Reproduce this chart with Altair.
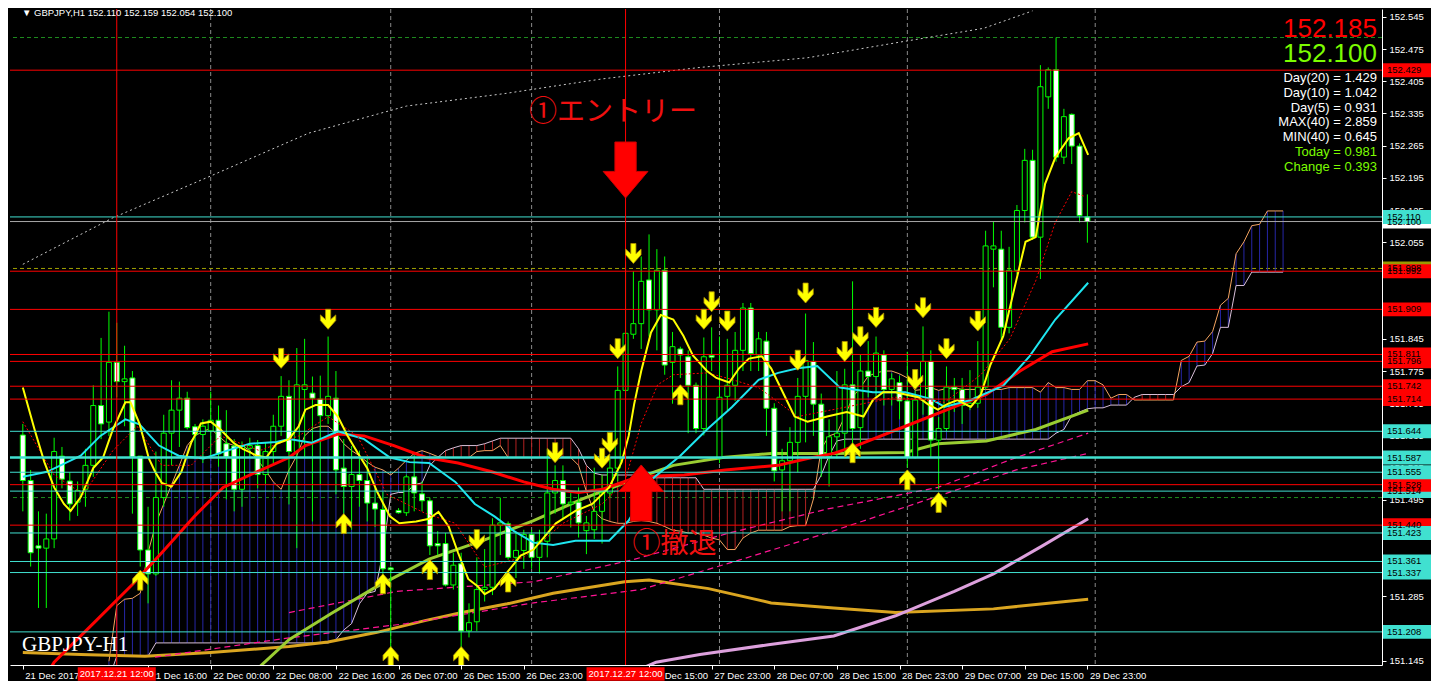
import altair as alt
import numpy as np
import pandas as pd

# ---------------- candles (H1) : bar 0 = 21 Dec 2017 00:00 ----------------
opens = [151.636, 151.537, 151.395, 151.390, 151.410, 151.590, 151.536, 151.490, 151.518, 151.570,
         151.700, 151.664, 151.794, 151.752, 151.760, 151.590, 151.386, 151.334, 151.500, 151.640,
         151.690, 151.716, 151.654, 151.637, 151.645, 151.668, 151.617, 151.612, 151.518, 151.607,
         151.613, 151.550, 151.600, 151.655, 151.720, 151.600, 151.735, 151.727, 151.714, 151.678,
         151.716, 151.564, 151.524, 151.550, 151.537, 151.488, 151.474, 151.347, 151.472, 151.467,
         151.545, 151.508, 151.493, 151.400, 151.400, 151.310, 151.356, 151.210, 151.230, 151.300,
         151.305, 151.440, 151.443, 151.370, 151.385, 151.420, 151.370, 151.405, 151.510, 151.537,
         151.486, 151.490, 151.428, 151.430, 151.470, 151.510, 151.564, 151.733, 151.855, 151.878,
         151.973, 151.908, 151.994, 151.794, 151.823, 151.806, 151.744, 151.650, 151.809, 151.585,
         151.720, 151.744, 151.820, 151.912, 151.810, 151.840, 151.694, 151.560, 151.580, 151.620,
         151.720, 151.796, 151.703, 151.589, 151.632, 151.640, 151.745, 151.652, 151.775, 151.763,
         151.810, 151.735, 151.750, 151.710, 151.587, 151.712, 151.796, 151.625, 151.650, 151.740,
         151.735, 151.700, 151.705, 151.740, 152.040, 152.040, 151.870, 151.994, 152.124, 152.233,
         152.066, 152.371, 152.430, 152.240, 152.333, 152.264, 152.110]
highs = [151.660, 151.560, 151.470, 151.465, 151.630, 151.610, 151.555, 151.535, 151.606, 151.744,
         151.847, 151.904, 151.880, 151.830, 151.775, 151.590, 151.480, 151.600, 151.680, 151.755,
         151.752, 151.730, 151.660, 151.670, 151.730, 151.700, 151.690, 151.627, 151.622, 151.630,
         151.625, 151.620, 151.680, 151.764, 151.755, 151.825, 151.845, 151.763, 151.765, 151.850,
         151.775, 151.627, 151.612, 151.602, 151.585, 151.520, 151.512, 151.350, 151.477, 151.550,
         151.592, 151.535, 151.500, 151.427, 151.423, 151.380, 151.380, 151.270, 151.370, 151.388,
         151.455, 151.500, 151.448, 151.423, 151.430, 151.430, 151.430, 151.606, 151.570, 151.570,
         151.510, 151.522, 151.460, 151.565, 151.550, 151.585, 151.785, 152.013, 151.992, 152.024,
         152.072, 152.040, 152.024, 151.860, 151.828, 151.820, 151.750, 151.848, 151.870, 151.850,
         151.845, 151.860, 151.923, 151.923, 151.860, 151.860, 151.705, 151.606, 151.653, 151.760,
         151.900, 151.838, 151.726, 151.670, 151.775, 151.780, 151.970, 151.810, 151.840, 151.850,
         151.820, 151.770, 151.765, 151.817, 151.733, 151.872, 151.820, 151.675, 151.785, 151.760,
         151.760, 151.777, 151.840, 152.080, 152.100, 152.080, 152.045, 152.136, 152.258, 152.256,
         152.440, 152.435, 152.500, 152.345, 152.335, 152.270, 152.159]
lows = [151.470, 151.350, 151.260, 151.260, 151.390, 151.520, 151.450, 151.460, 151.480, 151.545,
        151.627, 151.634, 151.718, 151.655, 151.465, 151.350, 151.270, 151.330, 151.480, 151.570,
        151.610, 151.648, 151.590, 151.575, 151.590, 151.567, 151.496, 151.470, 151.480, 151.588,
        151.520, 151.530, 151.575, 151.634, 151.485, 151.390, 151.587, 151.448, 151.528, 151.660,
        151.507, 151.465, 151.430, 151.480, 151.448, 151.436, 151.334, 151.163, 151.465, 151.460,
        151.470, 151.470, 151.375, 151.375, 151.307, 151.300, 151.175, 151.196, 151.210, 151.274,
        151.288, 151.375, 151.365, 151.325, 151.345, 151.345, 151.335, 151.370, 151.465, 151.455,
        151.435, 151.413, 151.377, 151.410, 151.400, 151.500, 151.535, 151.718, 151.845, 151.823,
        151.850, 151.820, 151.767, 151.704, 151.760, 151.640, 151.640, 151.635, 151.775, 151.575,
        151.690, 151.710, 151.775, 151.775, 151.775, 151.634, 151.535, 151.470, 151.470, 151.555,
        151.620, 151.634, 151.545, 151.524, 151.585, 151.590, 151.590, 151.606, 151.718, 151.720,
        151.700, 151.700, 151.670, 151.565, 151.585, 151.680, 151.587, 151.518, 151.645, 151.686,
        151.660, 151.690, 151.695, 151.735, 151.957, 151.845, 151.857, 151.985, 152.098, 152.060,
        151.975, 152.345, 152.230, 152.225, 152.225, 152.098, 152.054]
closes = [151.537, 151.380, 151.390, 151.410, 151.600, 151.540, 151.486, 151.515, 151.570, 151.700,
          151.660, 151.794, 151.752, 151.758, 151.588, 151.386, 151.334, 151.500, 151.640, 151.690,
          151.716, 151.652, 151.637, 151.655, 151.668, 151.595, 151.588, 151.518, 151.612, 151.613,
          151.550, 151.600, 151.655, 151.720, 151.600, 151.745, 151.745, 151.716, 151.678, 151.720,
          151.560, 151.524, 151.550, 151.537, 151.488, 151.475, 151.345, 151.343, 151.467, 151.545,
          151.510, 151.493, 151.395, 151.395, 151.310, 151.353, 151.210, 151.228, 151.300, 151.305,
          151.440, 151.445, 151.370, 151.385, 151.420, 151.370, 151.405, 151.510, 151.537, 151.486,
          151.490, 151.445, 151.445, 151.470, 151.510, 151.564, 151.733, 151.857, 151.878, 151.970,
          151.908, 151.994, 151.788, 151.828, 151.810, 151.744, 151.650, 151.806, 151.805, 151.718,
          151.744, 151.820, 151.912, 151.813, 151.845, 151.694, 151.558, 151.580, 151.620, 151.720,
          151.798, 151.703, 151.589, 151.632, 151.640, 151.745, 151.650, 151.775, 151.763, 151.814,
          151.735, 151.758, 151.710, 151.587, 151.712, 151.796, 151.625, 151.650, 151.740, 151.735,
          151.700, 151.705, 151.740, 152.047, 152.047, 151.870, 151.994, 152.124, 152.233, 152.066,
          152.393, 152.430, 152.240, 152.328, 152.264, 152.113, 152.100]

# ---------------- Ichimoku cloud (from bar 11, shifted 26 bars ahead) ----------------
cloud_start = 11
span_a = [151.144, 151.265, 151.279, 151.281, 151.292, 151.380, 151.444, 151.486, 151.528, 151.570,
          151.613, 151.634, 151.644, 151.650, 151.634, 151.619, 151.613, 151.613, 151.602, 151.581,
          151.560, 151.534, 151.518, 151.560, 151.591, 151.634, 151.650, 151.655, 151.655, 151.640,
          151.617, 151.602, 151.591, 151.577, 151.566, 151.560, 151.549, 151.564, 151.581, 151.596,
          151.602, 151.596, 151.589, 151.587, 151.587, 151.587, 151.587, 151.600, 151.602, 151.602,
          151.613, 151.587, 151.587, 151.587, 151.587, 151.587, 151.587, 151.587, 151.587, 151.587,
          151.570, 151.513, 151.469, 151.454, 151.448, 151.444, 151.444, 151.448, 151.450, 151.448,
          151.444, 151.437, 151.429, 151.427, 151.423, 151.423, 151.418, 151.412, 151.408, 151.387,
          151.387, 151.412, 151.423, 151.429, 151.429, 151.429, 151.429, 151.437, 151.439, 151.439,
          151.497, 151.606, 151.634, 151.640, 151.676, 151.718, 151.739, 151.764, 151.771, 151.775,
          151.775, 151.769, 151.760, 151.733, 151.735, 151.739, 151.733, 151.737, 151.739, 151.735,
          151.735, 151.735, 151.735, 151.735, 151.735, 151.739, 151.739, 151.739, 151.739, 151.729,
          151.750, 151.739, 151.739, 151.735, 151.735, 151.754, 151.754, 151.745, 151.716, 151.724,
          151.724, 151.712, 151.712, 151.712, 151.712, 151.712, 151.712, 151.798, 151.807, 151.838,
          151.840, 151.861, 151.918, 151.933, 152.030, 152.056, 152.091, 152.094, 152.123, 152.123,
          152.123]
span_b = [151.106, 151.155, 151.155, 151.155, 151.155, 151.155, 151.184, 151.184, 151.184, 151.184,
          151.184, 151.184, 151.184, 151.184, 151.184, 151.184, 151.184, 151.184, 151.184, 151.184,
          151.184, 151.184, 151.184, 151.184, 151.184, 151.184, 151.184, 151.184, 151.184, 151.191,
          151.212, 151.226, 151.269, 151.292, 151.296, 151.380, 151.507, 151.511, 151.511, 151.528,
          151.532, 151.570, 151.587, 151.602, 151.608, 151.613, 151.613, 151.613, 151.617, 151.623,
          151.629, 151.629, 151.629, 151.629, 151.629, 151.629, 151.629, 151.629, 151.629, 151.629,
          151.606, 151.570, 151.553, 151.549, 151.549, 151.549, 151.549, 151.549, 151.549, 151.543,
          151.543, 151.543, 151.543, 151.543, 151.543, 151.543, 151.518, 151.518, 151.518, 151.518,
          151.518, 151.518, 151.518, 151.518, 151.518, 151.518, 151.518, 151.518, 151.518, 151.518,
          151.518, 151.549, 151.591, 151.623, 151.627, 151.627, 151.627, 151.627, 151.627, 151.627,
          151.627, 151.627, 151.627, 151.627, 151.627, 151.627, 151.627, 151.627, 151.627, 151.627,
          151.627, 151.627, 151.627, 151.627, 151.627, 151.627, 151.627, 151.627, 151.627, 151.627,
          151.627, 151.640, 151.648, 151.678, 151.686, 151.693, 151.695, 151.695, 151.701, 151.701,
          151.701, 151.718, 151.724, 151.724, 151.724, 151.724, 151.724, 151.741, 151.750, 151.786,
          151.788, 151.813, 151.870, 151.870, 151.961, 151.961, 151.990, 151.990, 151.990, 151.990,
          151.990]

# ---------------- moving averages ----------------
yellow_bars = [0, 1.5, 2.75, 4, 5.25, 6.1, 7.4, 9, 10.25, 11.5, 13.1, 13.75, 14.9, 16.1, 16.9, 17.75,
               19, 20.25, 21.5, 22.75, 24, 25.25, 26.9, 28.1, 29.9, 31.1, 32.4, 34, 35.25, 36.1, 37.4,
               39, 40.25, 41.5, 42.75, 44, 45.25, 46.9, 48.1, 50.25, 51.9, 53.1, 54.4, 55.6, 56.9, 58.1,
               59, 60.25, 61.9, 63.6, 65.25, 68.1, 70.6, 72.75, 74.9, 76.5, 77.4, 78.1, 79, 80.25, 81.5,
               83.1, 84.4, 85.6, 87.4, 88.6, 90.25, 91.5, 92.75, 94.4, 95.6, 97.4, 98.6, 100.25, 102.75,
               105.25, 107.4, 108.6, 109.9, 111.5, 112.75, 114.4, 115.6, 116.9, 118.1, 119.4, 121.1,
               122.4, 123.6, 125.25, 126.9, 128.1, 129.4, 130.6, 131.9, 133.6, 134.9, 136.1]
yellow_vals = [151.739, 151.648, 151.577, 151.522, 151.486, 151.471, 151.501, 151.564, 151.587, 151.648,
               151.707, 151.707, 151.661, 151.585, 151.556, 151.532, 151.524, 151.556, 151.619, 151.661,
               151.665, 151.648, 151.619, 151.606, 151.591, 151.587, 151.617, 151.627, 151.655, 151.691,
               151.701, 151.701, 151.676, 151.634, 151.598, 151.564, 151.513, 151.459, 151.444, 151.448,
               151.454, 151.469, 151.437, 151.380, 151.323, 151.307, 151.290, 151.302, 151.338, 151.374,
               151.387, 151.444, 151.471, 151.486, 151.522, 151.577, 151.634, 151.703, 151.775, 151.859,
               151.897, 151.887, 151.851, 151.809, 151.775, 151.760, 151.750, 151.781, 151.802, 151.807,
               151.781, 151.718, 151.676, 151.665, 151.676, 151.686, 151.676, 151.712, 151.729, 151.729,
               151.724, 151.718, 151.703, 151.691, 151.703, 151.712, 151.697, 151.724, 151.788, 151.851,
               151.971, 152.056, 152.066, 152.182, 152.239, 152.281, 152.292, 152.245]
cyan_bars = [0, 3.1, 7.4, 9.9, 13.1, 14.9, 17.4, 19.9, 23.1, 26.1, 29, 32.4, 34, 36.9, 40.25, 43.6,
             46.9, 49.4, 51.9, 55.25, 57.75, 60.25, 62.75, 65.25, 67.75, 70.6, 74.9, 77.4, 80.6, 84,
             87.4, 90.6, 94, 96.5, 99, 101.5, 104.4, 108.6, 112.75, 116.1, 117.75, 121.1, 125.25,
             128.6, 131.9, 136.1]
cyan_vals = [151.545, 151.556, 151.591, 151.634, 151.670, 151.659, 151.613, 151.591, 151.585, 151.602,
             151.617, 151.621, 151.627, 151.619, 151.644, 151.627, 151.587, 151.577, 151.575, 151.534,
             151.486, 151.459, 151.427, 151.402, 151.397, 151.406, 151.406, 151.450, 151.543, 151.591,
             151.648, 151.697, 151.756, 151.771, 151.781, 151.786, 151.739, 151.729, 151.729, 151.714,
             151.697, 151.712, 151.743, 151.807, 151.887, 151.967]
red_bars = [2.75, 4, 9.4, 14, 17.75, 21.9, 25.6, 29.9, 34, 36.1, 40.25, 43.6, 47.4, 51.5, 55.6, 59.9,
            64, 67.75, 71, 74.1, 78.6, 84.5, 89.75, 96.5, 100.25, 103.6, 106.5, 112.75, 119, 123.1,
            127.4, 131.5, 136.1]
red_vals = [151.106, 151.142, 151.233, 151.311, 151.380, 151.459, 151.522, 151.556, 151.587, 151.613,
            151.638, 151.634, 151.613, 151.587, 151.575, 151.556, 151.534, 151.518, 151.511, 151.518,
            151.545, 151.549, 151.560, 151.570, 151.585, 151.596, 151.613, 151.655, 151.697, 151.724,
            151.775, 151.817, 151.834]
orange_bars = [0, 7.4, 15.6, 24, 34, 39, 45.25, 51.5, 56.1, 61.9, 67.75, 76.9, 80, 87.6, 95.6, 103.6,
               111.5, 124, 136.1]
orange_vals = [151.163, 151.159, 151.155, 151.163, 151.176, 151.186, 151.207, 151.233, 151.250, 151.269,
               151.292, 151.317, 151.321, 151.302, 151.271, 151.260, 151.250, 151.258, 151.279]
olive_bars = [30.25, 34, 39.4, 44.75, 51.9, 59, 65.25, 71.5, 78.6, 83.1, 89.4, 95.6, 103.6, 112.75,
              116.9, 123.1, 129.4, 136.1]
olive_vals = [151.132, 151.191, 151.248, 151.302, 151.366, 151.408, 151.450, 151.497, 151.543, 151.570,
              151.587, 151.596, 151.596, 151.598, 151.617, 151.623, 151.648, 151.690]
plum_bars = [79, 80.9, 86.5, 95.25, 103.6, 111.5, 119, 124, 130.25, 136.1]
plum_vals = [151.128, 151.142, 151.159, 151.180, 151.199, 151.243, 151.296, 151.334, 151.395, 151.454]
wdot_bars = [0, 11.5, 24, 36.5, 49, 61.5, 74, 86.5, 100.25, 112.75, 122.75, 129]
wdot_vals = [152.007, 152.108, 152.199, 152.292, 152.351, 152.378, 152.410, 152.435, 152.456, 152.492,
             152.520, 152.558]
mag1_bars = [34, 47.75, 65.25, 77.75, 90.25, 102.75, 116.9, 126.9, 136.1]
mag1_vals = [151.250, 151.296, 151.317, 151.364, 151.423, 151.475, 151.522, 151.587, 151.640]
mag2_bars = [16.9, 34, 49, 65.25, 79, 91.5, 102.75, 116.9, 126.9, 136.1]
mag2_vals = [151.153, 151.195, 151.226, 151.271, 151.300, 151.364, 151.423, 151.503, 151.560, 151.596]
rdot_bars = [0, 4, 7.75, 11.5, 14.6, 17.75, 21.5, 25.25, 30.25, 35.25, 39, 42.75, 46.5, 51.5, 55.25,
             59, 64, 69, 74, 76.9, 79, 81.1, 83.1, 87.4, 89.9, 94, 99, 105.25, 111.5, 117.75, 122.4,
             126.1, 129.4, 131.9, 134, 135.6]
rdot_vals = [151.665, 151.549, 151.507, 151.602, 151.655, 151.570, 151.570, 151.634, 151.602, 151.634,
             151.676, 151.634, 151.507, 151.465, 151.444, 151.349, 151.370, 151.444, 151.486, 151.534,
             151.661, 151.745, 151.767, 151.771, 151.760, 151.739, 151.676, 151.697, 151.718, 151.707,
             151.767, 151.845, 151.971, 152.098, 152.165, 152.155]

# ---------------- signal arrows ----------------
down_bars = [33, 39, 58, 68, 74, 75, 76, 78, 87, 88, 90, 99, 100, 105, 107, 109, 114, 115, 118, 122]
down_vals = [151.802, 151.887, 151.408, 151.597, 151.585, 151.619, 151.823, 152.030, 151.887, 151.925,
             151.883, 151.798, 151.944, 151.817, 151.849, 151.891, 151.756, 151.912, 151.823, 151.883]
up_bars = [15, 41, 46, 47, 52, 56, 62, 84, 106, 113, 117]
up_vals = [151.321, 151.444, 151.313, 151.155, 151.344, 151.155, 151.317, 151.724, 151.598, 151.539,
           151.490]

# ---------------- levels / objects ----------------
red_levels = [151.440, 151.528, 151.714, 151.742, 151.796, 151.811, 151.909, 151.992, 152.429]
cyan_levels = [152.110, 151.644, 151.587, 151.555, 151.423, 151.361, 151.337, 151.208]
cyan_under_level = [151.514]
bid_level = [152.100]
olive_level = [151.998]
green_dash_levels = [152.500, 151.500]
marked_bars = [12, 77]
marked_labels = ['2017.12.21 12:00', '2017.12.27 12:00']
day_sep_bars = [24, 47, 65, 89, 113, 137]
entry_arrow = (77, 152.212)
exit_arrow = (79, 151.510)
entry_text = (75.4, 152.336, '①エントリー')
exit_text = (83.25, 151.397, '①撤退')

ytick_values = [151.145, 151.215, 151.285, 151.355, 151.425, 151.495, 151.565, 151.635, 151.705,
                151.775, 151.845, 151.915, 151.985, 152.055, 152.125, 152.195, 152.265, 152.335,
                152.405, 152.475, 152.545]
xtick_bars = [0, 16, 24, 32, 40, 48, 56, 64, 80, 88, 96, 104, 112, 120, 128, 136]
xtick_labels = ['21 Dec 2017', '21 Dec 16:00', '22 Dec 00:00', '22 Dec 08:00',
                '22 Dec 16:00', '26 Dec 07:00', '26 Dec 15:00', '26 Dec 23:00',
                '27 Dec 15:00', '27 Dec 23:00', '28 Dec 07:00', '28 Dec 15:00', '28 Dec 23:00',
                '29 Dec 07:00', '29 Dec 15:00', '29 Dec 23:00']
header = '▼ GBPJPY,H1  152.110 152.159 152.054 152.100'
big_prices = ['152.185', '152.100']
info_white = ['Day(20) = 1.429', 'Day(10) = 1.042', 'Day(5) = 0.931', 'MAX(40) = 2.859', 'MIN(40) = 0.645']
info_green = ['Today = 0.981', 'Change = 0.393']
symbol_text = 'GBPJPY-H1'

# ---------------- layout ----------------
W, H = 1372, 656
FONT = 'Liberation Sans'
xscale = alt.Scale(domain=[-1, 173], nice=False, zero=False)
yscale = alt.Scale(domain=[151.136, 152.562], nice=False, zero=False)
label_expr = ' : '.join(f"datum.value == {b} ? '{t}'" for b, t in zip(xtick_bars, xtick_labels)) + " : ''"
xaxis = alt.Axis(values=xtick_bars, labelExpr=label_expr, title=None, grid=False, orient='bottom',
                 domainColor='#FFFFFF', tickColor='#FFFFFF', labelColor='#FFFFFF', tickSize=4,
                 labelAlign='left', labelBaseline='top', labelPadding=1, labelOffset=2,
                 labelFont=FONT, labelFontSize=9.5, labelOverlap=False, labelFlush=False)
yaxis = alt.Axis(values=ytick_values, format='.3f', title=None, grid=False, orient='right',
                 domainColor='#FFFFFF', tickColor='#FFFFFF', labelColor='#FFFFFF', tickSize=4,
                 labelPadding=3, labelFont=FONT, labelFontSize=9.5, labelOverlap=False, labelFlush=False)


def X(f='i'):
    return alt.X(f'{f}:Q', scale=xscale, axis=xaxis)


def Y(f='p'):
    return alt.Y(f'{f}:Q', scale=yscale, axis=yaxis)


def pairs(xs, ys):
    m = min(len(xs), len(ys))
    return pd.DataFrame({'i': list(xs)[:m], 'p': list(ys)[:m]})


def line(xs, ys, color, width, dash=None):
    kw = dict(color=color, strokeWidth=width, clip=True)
    if dash:
        kw['strokeDash'] = dash
    return alt.Chart(pairs(xs, ys)).mark_line(**kw).encode(x=X(), y=Y())


layers = []

# day separators and dashed levels
layers.append(alt.Chart(pd.DataFrame({'i': day_sep_bars})).mark_rule(
    color='#8A8A8A', strokeWidth=1, strokeDash=[4, 3]).encode(x=X()))
layers.append(alt.Chart(pd.DataFrame({'p': green_dash_levels})).mark_rule(
    color='#1E8C1E', strokeWidth=1, strokeDash=[4, 3]).encode(y=Y()))
layers.append(alt.Chart(pd.DataFrame({'p': olive_level})).mark_rule(
    color='#A0A000', strokeWidth=1, strokeDash=[4, 3]).encode(y=Y()))

# cloud (hatched with one vertical line per bar)
m = min(len(span_a), len(span_b))
cloud = pd.DataFrame({'i': list(range(cloud_start, cloud_start + m)), 'a': span_a[:m], 'b': span_b[:m]})
cloud['col'] = np.where(cloud['a'] >= cloud['b'], '#2626A6', '#B22222')
layers.append(alt.Chart(cloud).mark_rule(strokeWidth=1, clip=True).encode(
    x=X(), y=Y('a'), y2=alt.Y2('b:Q'), color=alt.Color('col:N', scale=None)))
layers.append(alt.Chart(cloud).mark_line(color='#F4A460', strokeWidth=1, clip=True).encode(x=X(), y=Y('a')))
layers.append(alt.Chart(cloud).mark_line(color='#D8BFD8', strokeWidth=1, clip=True).encode(x=X(), y=Y('b')))

# slow lines
layers.append(line(wdot_bars, wdot_vals, '#C8C8C8', 1, [2, 3]))
layers.append(line(orange_bars, orange_vals, '#DAA520', 3))
layers.append(line(plum_bars, plum_vals, '#DDA0DD', 3))
layers.append(line(mag2_bars, mag2_vals, '#FF1493', 1.2, [6, 4]))
layers.append(line(mag1_bars, mag1_vals, '#FF1493', 1.2, [6, 4]))
layers.append(line(olive_bars, olive_vals, '#9ACD32', 3))

# candles
cdf = pd.DataFrame({'i': list(range(len(opens))), 'o': opens, 'h': highs, 'l': lows, 'c': closes})
cdf['body'] = np.where(cdf['c'] > cdf['o'], '#000000', '#FFFFFF')
layers.append(alt.Chart(cdf).mark_rule(color='#00FF00', strokeWidth=1).encode(
    x=X(), y=Y('l'), y2=alt.Y2('h:Q')))
layers.append(alt.Chart(cdf).mark_bar(size=5, stroke='#00FF00', strokeWidth=1).encode(
    x=X(), y=Y('o'), y2=alt.Y2('c:Q'), fill=alt.Fill('body:N', scale=None)))

# fast lines
layers.append(line(red_bars, red_vals, '#FF0000', 3))
layers.append(line(cyan_bars, cyan_vals, '#1EE6F0', 2))
layers.append(line(rdot_bars, rdot_vals, '#FF0000', 1, [2, 2]))
layers.append(line(yellow_bars, yellow_vals, '#FFFF00', 2))

# horizontal objects
layers.append(alt.Chart(pd.DataFrame({'p': red_levels})).mark_rule(color='#FF0000', strokeWidth=1).encode(y=Y()))
layers.append(alt.Chart(pd.DataFrame({'p': cyan_levels + cyan_under_level})).mark_rule(
    color='#40E0D0', strokeWidth=1).encode(y=Y()))
layers.append(alt.Chart(pd.DataFrame({'p': [cyan_levels[2]]})).mark_rule(
    color='#40E0D0', strokeWidth=2.5).encode(y=Y()))
layers.append(alt.Chart(pd.DataFrame({'p': bid_level})).mark_rule(color='#A8A8A8', strokeWidth=1).encode(y=Y()))
layers.append(alt.Chart(pd.DataFrame({'i': marked_bars})).mark_rule(color='#FF0000', strokeWidth=1).encode(x=X()))

# small arrows
DOWN = 'M-0.25,-1 L0.25,-1 L0.25,0 L0.75,-0.45 L0.75,0.1 L0,0.95 L-0.75,0.1 L-0.75,-0.45 L-0.25,0 Z'
UP = 'M-0.25,1 L0.25,1 L0.25,0 L0.75,0.45 L0.75,-0.1 L0,-0.95 L-0.75,-0.1 L-0.75,0.45 L-0.25,0 Z'
layers.append(alt.Chart(pairs(down_bars, down_vals)).mark_point(
    shape=DOWN, size=420, filled=True, fill='#FFFF00', stroke='#B09000', strokeWidth=0.8, opacity=1,
    clip=True).encode(x=X(), y=Y()))
layers.append(alt.Chart(pairs(up_bars, up_vals)).mark_point(
    shape=UP, size=420, filled=True, fill='#FFFF00', stroke='#B09000', strokeWidth=0.8, opacity=1,
    clip=True).encode(x=X(), y=Y()))

# big red arrows + annotation text
BIGDOWN = 'M-0.38,-1 L0.38,-1 L0.38,0.05 L0.8,0.05 L0,1 L-0.8,0.05 L-0.38,0.05 Z'
BIGUP = 'M-0.38,1 L0.38,1 L0.38,-0.05 L0.8,-0.05 L0,-1 L-0.8,-0.05 L-0.38,-0.05 Z'
layers.append(alt.Chart(pairs([entry_arrow[0]], [entry_arrow[1]])).mark_point(
    shape=BIGDOWN, size=3136, filled=True, fill='#FF0000', stroke='#D00000', strokeWidth=1, opacity=1
).encode(x=X(), y=Y()))
layers.append(alt.Chart(pairs([exit_arrow[0]], [exit_arrow[1]])).mark_point(
    shape=BIGUP, size=3136, filled=True, fill='#FF0000', stroke='#D00000', strokeWidth=1, opacity=1
).encode(x=X(), y=Y()))
ann = pd.DataFrame({'i': [entry_text[0], exit_text[0]], 'p': [entry_text[1], exit_text[1]],
                    't': [entry_text[2], exit_text[2]]})
layers.append(alt.Chart(ann).mark_text(font='Noto Sans CJK JP', fontSize=28, color='#F01010',
                                       align='center', baseline='middle').encode(x=X(), y=Y(), text='t:N'))

# right-hand price labels (drawn in MT4 stacking order)
BOX = 'M-1,-0.29 L1,-0.29 L1,0.29 L-1,0.29 Z'
lab = pd.concat([
    pd.DataFrame({'p': bid_level, 'col': '#FFFFFF'}),
    pd.DataFrame({'p': olive_level, 'col': '#9A9A00'}),
    pd.DataFrame({'p': cyan_under_level, 'col': '#40E0D0'}),
    pd.DataFrame({'p': red_levels, 'col': '#FF0000'}),
    pd.DataFrame({'p': cyan_levels, 'col': '#40E0D0'}),
], ignore_index=True)
lab['ord'] = range(len(lab))
layers.append(alt.Chart(lab).mark_point(shape=BOX, size=2304, filled=True, opacity=1, strokeWidth=0).encode(
    x=alt.value(W + 25), y=Y(), fill=alt.Fill('col:N', scale=None), order='ord:Q'))
layers.append(alt.Chart(lab).mark_text(align='left', baseline='middle', font=FONT, fontSize=9.5,
                                       color='#000000').encode(
    x=alt.value(W + 5), y=Y(), text=alt.Text('p:Q', format='.3f'), order='ord:Q'))

# highlighted time labels
DBOX = 'M-1,-0.17 L1,-0.17 L1,0.17 L-1,0.17 Z'
tl = pd.DataFrame({'i': marked_bars, 't': marked_labels})
layers.append(alt.Chart(tl).mark_point(shape=DBOX, size=6084, filled=True, fill='#FF0000', opacity=1,
                                       strokeWidth=0).encode(x=X(), y=alt.value(H + 9)))
layers.append(alt.Chart(tl).mark_text(font=FONT, fontSize=9.5, color='#FFFFFF', align='center',
                                      baseline='middle').encode(x=X(), y=alt.value(H + 9), text='t:N'))

# texts
one = pd.DataFrame({'a': [0]})
layers.append(alt.Chart(one).mark_text(text=header, font=FONT, fontSize=9.5, color='#FFFFFF', align='left',
                                       baseline='alphabetic').encode(x=alt.value(12), y=alt.value(7)))
layers.append(alt.Chart(one).mark_text(text=big_prices[0], font=FONT, fontSize=26, color='#FF0000',
                                       align='right', baseline='middle').encode(x=alt.value(W - 5), y=alt.value(20)))
layers.append(alt.Chart(one).mark_text(text=big_prices[1], font=FONT, fontSize=26, color='#7CFC00',
                                       align='right', baseline='middle').encode(x=alt.value(W - 5), y=alt.value(45)))
layers.append(alt.Chart(one).mark_text(text=info_white, font=FONT, fontSize=13, lineHeight=14.8,
                                       color='#FFFFFF', align='right', baseline='top').encode(
    x=alt.value(W - 5), y=alt.value(63)))
layers.append(alt.Chart(one).mark_text(text=info_green, font=FONT, fontSize=13, lineHeight=14.8,
                                       color='#7CFC00', align='right', baseline='top').encode(
    x=alt.value(W - 5), y=alt.value(137)))
layers.append(alt.Chart(one).mark_text(text=symbol_text, font='Liberation Serif', fontSize=21,
                                       color='#FFFFFF', align='left', baseline='middle').encode(
    x=alt.value(12), y=alt.value(636)))

chart = alt.layer(*layers).properties(width=W, height=H, background='#000000', padding=0).configure_view(
    stroke=None)
chart.save("out.html", embed_options={"renderer": "svg", "actions": False})
